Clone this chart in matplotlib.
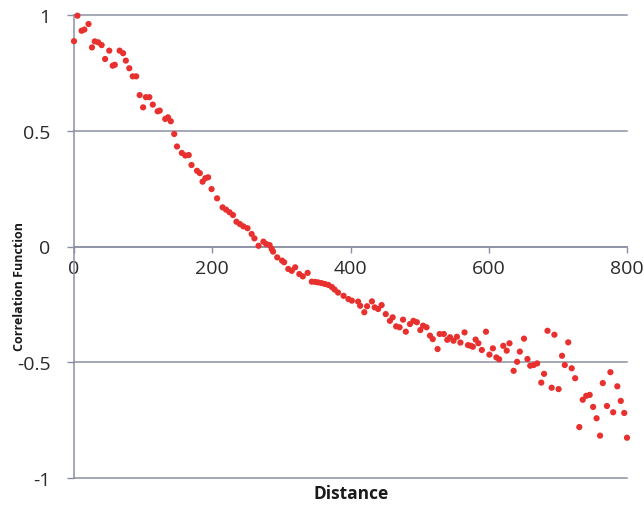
import matplotlib.pyplot as plt

# Correlation function vs distance
distance = [
    0, 5, 11, 15, 21, 26, 30, 35, 40, 45, 51, 56, 59, 66, 71, 75, 80, 85, 90,
    95, 100, 104, 109, 114, 121, 124, 132, 136, 140, 145, 149, 156, 161, 166,
    170, 178, 182, 186, 190, 194, 199, 207, 215, 220, 225, 230, 235, 240, 245,
    251, 257, 261, 267, 274, 278, 283, 286, 288, 294, 301, 304, 310, 315, 320,
    326, 331, 338, 344, 349, 353, 358, 363, 368, 373, 377, 382, 390, 397, 402,
    411, 414, 420, 424, 431, 435, 440, 445, 451, 457, 461, 466, 471, 476, 480,
    486, 491, 496, 501, 505, 510, 515, 519, 526, 529, 535, 540, 544, 549, 554,
    559, 565, 570, 574, 577, 581, 585, 590, 596, 601, 606, 611, 615, 621, 626,
    630, 636, 641, 645, 651, 656, 660, 665, 670, 676, 680, 685, 691, 695, 701,
    706, 710, 715, 720, 725, 731, 736, 741, 746, 751, 756, 761, 765, 771, 776,
    780, 786, 791, 796, 800,
]
correlation = [
    0.887, 0.997, 0.932, 0.937, 0.961, 0.86, 0.886, 0.882, 0.87, 0.81, 0.846,
    0.781, 0.785, 0.846, 0.835, 0.803, 0.77, 0.735, 0.735, 0.654, 0.601,
    0.645, 0.645, 0.613, 0.584, 0.587, 0.551, 0.558, 0.541, 0.486, 0.432,
    0.404, 0.393, 0.395, 0.352, 0.327, 0.317, 0.28, 0.295, 0.299, 0.248,
    0.208, 0.169, 0.159, 0.148, 0.136, 0.107, 0.097, 0.087, 0.079, 0.054,
    0.035, 0.003, 0.021, 0.011, 0.006, -0.011, -0.022, -0.047, -0.061, -0.068,
    -0.097, -0.105, -0.09, -0.119, -0.129, -0.114, -0.152, -0.153, -0.155,
    -0.158, -0.162, -0.166, -0.175, -0.186, -0.199, -0.213, -0.227, -0.234,
    -0.238, -0.256, -0.284, -0.258, -0.237, -0.263, -0.27, -0.253, -0.292,
    -0.321, -0.306, -0.345, -0.349, -0.316, -0.368, -0.335, -0.321, -0.327,
    -0.361, -0.342, -0.349, -0.385, -0.4, -0.443, -0.378, -0.378, -0.403,
    -0.392, -0.407, -0.39, -0.415, -0.371, -0.426, -0.429, -0.433, -0.402,
    -0.418, -0.447, -0.368, -0.467, -0.44, -0.479, -0.487, -0.429, -0.45,
    -0.418, -0.537, -0.498, -0.454, -0.398, -0.486, -0.515, -0.512, -0.505,
    -0.588, -0.55, -0.364, -0.61, -0.381, -0.616, -0.472, -0.512, -0.414,
    -0.526, -0.569, -0.78, -0.662, -0.645, -0.641, -0.693, -0.742, -0.817,
    -0.59, -0.689, -0.543, -0.716, -0.604, -0.667, -0.719, -0.826,
]
x_ticks = [0, 200, 400, 600, 800]
y_ticks = [-1, -0.5, 0, 0.5, 1]
y_tick_labels = ["-1", "-0.5", "0", "0.5", "1"]

axis_color = "#8b8fa3"
text_color = "#2a2a2a"
plt.rcParams["font.family"] = ["Open Sans", "DejaVu Sans"]

fig = plt.figure(figsize=(6.44, 5.06), dpi=100)
ax = fig.add_axes([74 / 644, 27 / 506, 553 / 644, 463 / 506])

ax.scatter(distance, correlation, s=20, color="#e8302e", edgecolors="none",
           zorder=3, clip_on=False)

ax.set_xlim(0, 800)
ax.set_ylim(-1, 1)
ax.set_xticks(x_ticks)
ax.set_yticks(y_ticks)
ax.set_yticklabels(y_tick_labels)

ax.spines["top"].set_visible(False)
ax.spines["right"].set_visible(False)
ax.spines["bottom"].set_position(("data", 0))
for side in ("left", "bottom"):
    ax.spines[side].set_color(axis_color)
    ax.spines[side].set_linewidth(1.1)

ax.yaxis.grid(True, color=axis_color, linewidth=1.1)
for line in ax.get_ygridlines():
    line.set_clip_on(False)
ax.set_axisbelow(True)

ax.tick_params(axis="x", direction="out", length=4, width=1, color=axis_color,
               pad=5, labelsize=14, labelcolor=text_color)
ax.tick_params(axis="y", direction="out", length=5, width=1, color=axis_color,
               pad=12, labelsize=14, labelcolor=text_color)

fig.text(20 / 644, 1 - 287 / 506, "Correlation Function", rotation=90,
         ha="center", va="center", fontsize=9, fontweight="bold",
         color="#1a1a1a")
fig.text(351 / 644, 1 - 494 / 506, "Distance", ha="center", va="center",
         fontsize=12.5, fontweight="bold", color="#1a1a1a")

fig.savefig("out.png", dpi=100)
